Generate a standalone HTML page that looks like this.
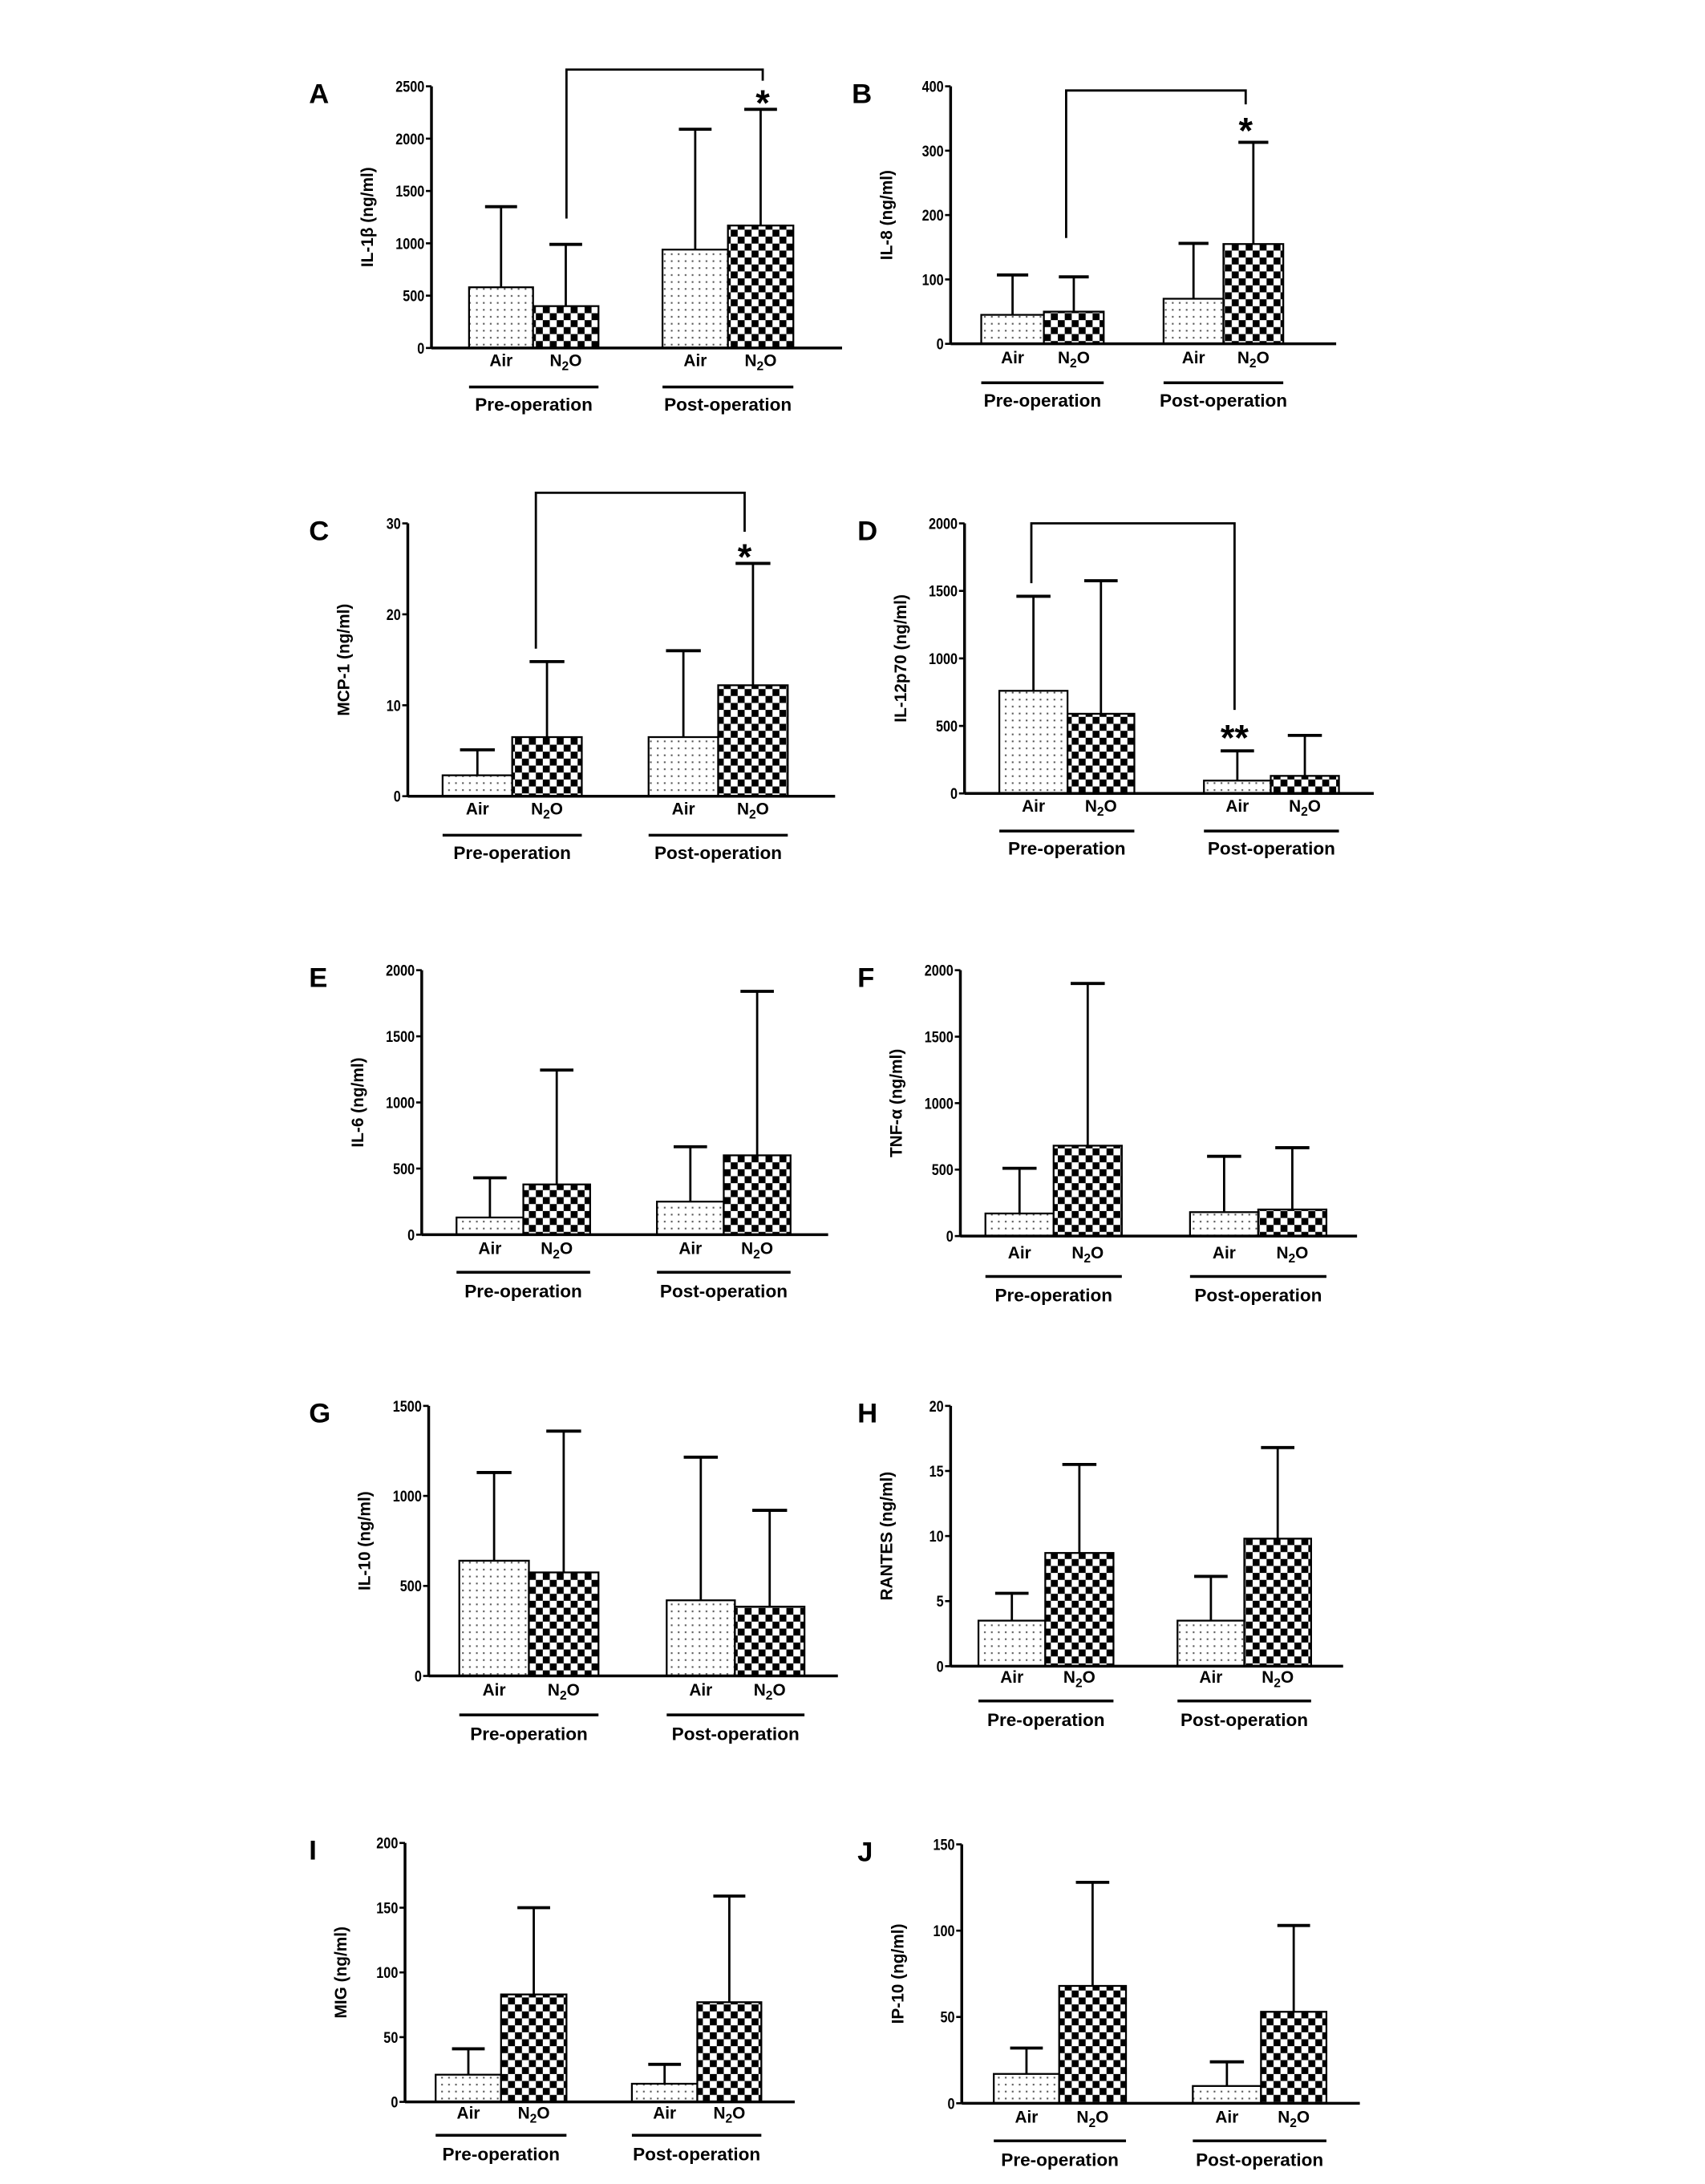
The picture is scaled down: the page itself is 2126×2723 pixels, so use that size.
<!DOCTYPE html>
<html><head><meta charset="utf-8"><style>
html,body{margin:0;padding:0;background:#fff;}
svg{display:block;}
text{font-family:"Liberation Sans",sans-serif;}
</style></head><body>
<svg id="fig" xmlns="http://www.w3.org/2000/svg" width="2126" height="2723" viewBox="0 0 1225 1569" preserveAspectRatio="none">
<defs>
<pattern id="dots" width="5" height="5" patternUnits="userSpaceOnUse"><rect width="5" height="5" fill="#fff"/><rect x="2" y="2" width="1.2" height="1.2" fill="#555"/></pattern>
<pattern id="check" width="10" height="10" patternUnits="userSpaceOnUse"><rect width="10" height="10" fill="#fff"/><rect width="5" height="5" fill="#000"/><rect x="5" y="5" width="5" height="5" fill="#000"/></pattern>
</defs>
</svg>
<script>
// Panel data (Air pre, N2O pre, Air post, N2O post)
const valuesA=[580,400,940,1170]; const errorsA=[1350,990,2090,2280]; const ticksA=[0,500,1000,1500,2000,2500];
const valuesB=[45,50,70,155]; const errorsB=[107,104,156,313]; const ticksB=[0,100,200,300,400];
const valuesC=[2.3,6.5,6.5,12.2]; const errorsC=[5.1,14.8,16,25.6]; const ticksC=[0,10,20,30];
const valuesD=[760,590,95,130]; const errorsD=[1460,1575,315,430]; const ticksD=[0,500,1000,1500,2000];
const valuesE=[130,380,250,600]; const errorsE=[430,1245,665,1840]; const ticksE=[0,500,1000,1500,2000];
const valuesF=[170,680,180,200]; const errorsF=[510,1900,600,665]; const ticksF=[0,500,1000,1500,2000];
const valuesG=[640,575,420,385]; const errorsG=[1130,1360,1215,920]; const ticksG=[0,500,1000,1500];
const valuesH=[3.5,8.7,3.5,9.8]; const errorsH=[5.6,15.5,6.9,16.8]; const ticksH=[0,5,10,15,20];
const valuesI=[21,83,14,77]; const errorsI=[41,150,29,159]; const ticksI=[0,50,100,150,200];
const valuesJ=[17,68,10,53]; const errorsJ=[32,128,24,103]; const ticksJ=[0,50,100,150];
const groupLabels=["Pre-operation","Post-operation"];
const barLabels=["Air","N2O"];

const NS="http://www.w3.org/2000/svg";
const svg=document.getElementById('fig');
function mk(tag,attrs,parent){const e=document.createElementNS(NS,tag);for(const k in attrs)e.setAttribute(k,attrs[k]);(parent||svg).appendChild(e);return e;}

const panels=[
 {id:'a',letter:'A',title:'IL-1β (ng/ml)',vals:valuesA,errs:errorsA,ticks:ticksA,ax:310,y0:250,yt:62,xe:605,edges:[337,383,430,476,523,570],ly:263,uy:278,gy:291,lx:222,br:{x1:407,y1:157,top:50,x2:548,y2:58},star:{x:548,y:69,t:'*'}},
 {id:'b',letter:'B',title:'IL-8 (ng/ml)',vals:valuesB,errs:errorsB,ticks:ticksB,ax:683,y0:247,yt:62,xe:960,edges:[705,750,793,836,879,922],ly:261,uy:275,gy:288,lx:612,br:{x1:766,y1:171,top:65,x2:895,y2:75},star:{x:895,y:89,t:'*'}},
 {id:'c',letter:'C',title:'MCP-1 (ng/ml)',vals:valuesC,errs:errorsC,ticks:ticksC,ax:293,y0:572,yt:376,xe:600,edges:[318,368,418,466,516,566],ly:585,uy:600,gy:613,lx:222,br:{x1:385,y1:466,top:354,x2:535,y2:382},star:{x:535,y:395,t:'*'}},
 {id:'d',letter:'D',title:'IL-12p70 (ng/ml)',vals:valuesD,errs:errorsD,ticks:ticksD,ax:693,y0:570,yt:376,xe:987,edges:[718,767,815,865,913,962],ly:583,uy:597,gy:610,lx:616,br:{x1:741,y1:419,top:376,x2:887,y2:510},star:{x:887,y:525,t:'**'}},
 {id:'e',letter:'E',title:'IL-6 (ng/ml)',vals:valuesE,errs:errorsE,ticks:ticksE,ax:303,y0:887,yt:697,xe:595,edges:[328,376,424,472,520,568],ly:901,uy:914,gy:928,lx:222},
 {id:'f',letter:'F',title:'TNF-α (ng/ml)',vals:valuesF,errs:errorsF,ticks:ticksF,ax:690,y0:888,yt:697,xe:975,edges:[708,757,806,855,904,953],ly:904,uy:917,gy:931,lx:616},
 {id:'g',letter:'G',title:'IL-10 (ng/ml)',vals:valuesG,errs:errorsG,ticks:ticksG,ax:308,y0:1204,yt:1010,xe:602,edges:[330,380,430,479,528,578],ly:1218,uy:1232,gy:1246,lx:222},
 {id:'h',letter:'H',title:'RANTES (ng/ml)',vals:valuesH,errs:errorsH,ticks:ticksH,ax:683,y0:1197,yt:1010,xe:965,edges:[703,751,800,846,894,942],ly:1209,uy:1222,gy:1236,lx:616},
 {id:'i',letter:'I',title:'MIG (ng/ml)',vals:valuesI,errs:errorsI,ticks:ticksI,ax:291,y0:1510,yt:1324,xe:571,edges:[313,360,407,454,501,547],ly:1522,uy:1534,gy:1548,lx:222},
 {id:'j',letter:'J',title:'IP-10 (ng/ml)',vals:valuesJ,errs:errorsJ,ticks:ticksJ,ax:691,y0:1511,yt:1325,xe:977,edges:[714,761,809,857,906,953],ly:1525,uy:1538,gy:1552,lx:616}
];

panels.forEach(p=>{
 const g=mk('g',{});
 
 
 const max=p.ticks[p.ticks.length-1];
 const yS=v=>p.y0-(v/max)*(p.y0-p.yt);
 const lt=mk('text',{x:p.lx,y:p.yt+12,'font-family':'Liberation Serif','font-weight':'bold','font-size':'20'},g);
 lt.textContent=p.letter;
 
 
 const cy=(p.y0+p.yt)/2;
 const yt=mk('text',{x:p.ax-42,y:cy,transform:'rotate(-90 '+(p.ax-42)+' '+cy+')','text-anchor':'middle','font-size':'12','font-weight':'bold'},g);
 yt.textContent=p.title;
 
 
 p.ticks.forEach(t=>{
  const y=yS(t);
  mk('line',{x1:p.ax-4,x2:p.ax,y1:y,y2:y,stroke:'#000','stroke-width':1.5},g);
  const tl=mk('text',{x:p.ax-5,y:y+4,'text-anchor':'end','font-size':'11','font-weight':'bold',transform:'translate('+(p.ax-5)+' 0) scale(0.85 1) translate('+(-(p.ax-5))+' 0)'},g);
  tl.textContent=t;
  
  
 });
 const e=p.edges;
 const bx=[[e[0],e[1]],[e[1],e[2]],[e[3],e[4]],[e[4],e[5]]];
 bx.forEach((b,i)=>{
  const top=yS(p.vals[i]), et=yS(p.errs[i]), cx=(b[0]+b[1])/2, w=b[1]-b[0];
  mk('line',{x1:cx,x2:cx,y1:top,y2:et,stroke:'#000','stroke-width':1.6},g);
  mk('line',{x1:cx-w/4,x2:cx+w/4,y1:et,y2:et,stroke:'#000','stroke-width':2.2},g);
  const r=mk('rect',{x:b[0],y:top,width:w,height:p.y0-top,fill:i%2?'url(#check)':'url(#dots)',stroke:'#000','stroke-width':1.3},g);
  
  
  const lab=mk('text',{x:cx,y:p.ly,'text-anchor':'middle','font-size':'12','font-weight':'bold'},g);
  if(i%2){lab.innerHTML='N<tspan font-size="9" dy="3">2</tspan><tspan dy="-3">O</tspan>';}else lab.textContent=barLabels[0];
  
  
 });
 mk('line',{x1:p.ax,x2:p.ax,y1:p.yt,y2:p.y0,stroke:'#000','stroke-width':2},g);
 mk('line',{x1:p.ax,x2:p.xe,y1:p.y0,y2:p.y0,stroke:'#000','stroke-width':2},g);
 [[e[0],e[2]],[e[3],e[5]]].forEach((u,k)=>{
  mk('line',{x1:u[0],x2:u[1],y1:p.uy,y2:p.uy,stroke:'#000','stroke-width':2},g);
  const gl=mk('text',{x:(u[0]+u[1])/2,y:p.gy+4,'text-anchor':'middle','font-size':'13','font-weight':'bold'},g);
  gl.textContent=groupLabels[k];
  
  
 });
 if(p.br){
  const b=p.br;
  const pl=mk('polyline',{points:b.x1+','+b.y1+' '+b.x1+','+b.top+' '+b.x2+','+b.top+' '+b.x2+','+b.y2,fill:'none',stroke:'#000','stroke-width':1.6},g);
  
  
  const st=mk('text',{x:p.star.x,y:p.star.y+14,'text-anchor':'middle','font-size':'26','font-weight':'bold'},g);
  st.textContent=p.star.t;
  
  
 }
});
</script>
</body></html>
